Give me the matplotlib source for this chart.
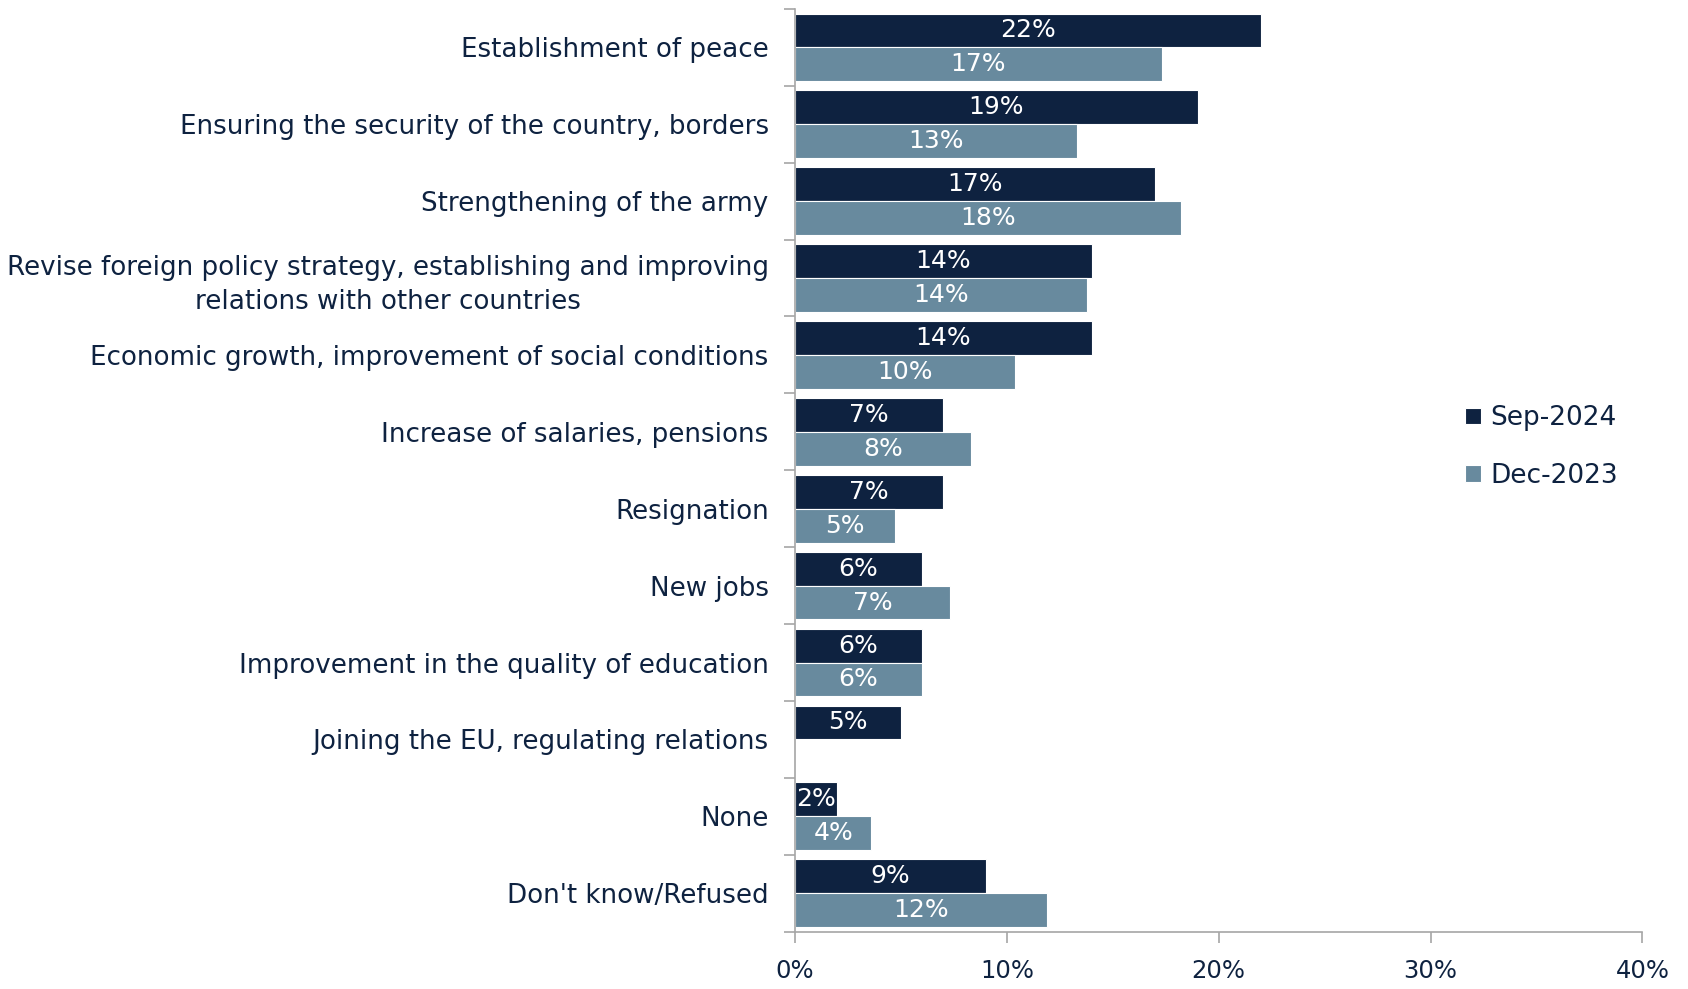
import matplotlib.pyplot as plt
import numpy as np

plt.rcParams['font.family'] = ['DejaVu Sans']

categories = [
    'Establishment of peace',
    'Ensuring the security of the country, borders',
    'Strengthening of the army',
    'Revise foreign policy strategy, establishing and improving\nrelations with other countries',
    'Economic growth, improvement of social conditions',
    'Increase of salaries, pensions',
    'Resignation',
    'New jobs',
    'Improvement in the quality of education',
    'Joining the EU, regulating relations',
    'None',
    "Don't know/Refused",
]
sep_2024 = [22.0, 19.0, 17.0, 14.0, 14.0, 7.0, 7.0, 6.0, 6.0, 5.0, 2.0, 9.0]
dec_2023 = [17.3, 13.3, 18.2, 13.8, 10.4, 8.3, 4.7, 7.3, 6.0, np.nan, 3.6, 11.9]

navy = '#0E2240'
steel = '#688A9E'
text_col = '#0E2240'

fig = plt.figure(figsize=(16.88, 9.89), dpi=100)
ax = fig.add_axes([0.471, 0.058, 0.502, 0.933])

y = np.arange(len(categories))
h = 0.44
b1 = ax.barh(y - h / 2, sep_2024, height=h, color=navy, edgecolor='white', linewidth=0.8, label='Sep-2024')
b2 = ax.barh(y + h / 2, np.nan_to_num(dec_2023), height=h, color=steel, edgecolor='white', linewidth=0.8, label='Dec-2023')

for bars, vals in [(b1, sep_2024), (b2, dec_2023)]:
    for bar, v in zip(bars, vals):
        if np.isnan(v):
            continue
        ax.text(bar.get_x() + bar.get_width() / 2, bar.get_y() + bar.get_height() / 2,
                f'{v:.0f}%', ha='center', va='center', color='white', fontsize=18)

ax.set_ylim(len(categories) - 0.5, -0.5)
ax.set_xlim(0, 40)
ax.set_yticks(y)
ax.set_yticklabels(categories, fontsize=18.8, color=text_col, ha='right',
                   multialignment='center', linespacing=1.4)
ax.tick_params(axis='y', which='major', length=0, pad=19)
ax.set_yticks(np.arange(-0.5, len(categories), 1), minor=True)
ax.tick_params(axis='y', which='minor', length=8, color='#A6A6A6', width=1.2)

ax.set_xticks([0, 10, 20, 30, 40])
ax.set_xticklabels(['0%', '10%', '20%', '30%', '40%'], fontsize=17.5, color=text_col)
ax.tick_params(axis='x', length=8, color='#A6A6A6', width=1.2, pad=12)

for s in ['top', 'right']:
    ax.spines[s].set_visible(False)
for s in ['left', 'bottom']:
    ax.spines[s].set_color('#A6A6A6')
    ax.spines[s].set_linewidth(1.2)

leg = fig.legend(loc='center left', bbox_to_anchor=(0.854, 0.548), frameon=False,
                 fontsize=19, handlelength=0.6, handleheight=0.6, handletextpad=0.35,
                 labelspacing=1.2)
for t in leg.get_texts():
    t.set_color(text_col)

fig.savefig('out.png', dpi=100)
